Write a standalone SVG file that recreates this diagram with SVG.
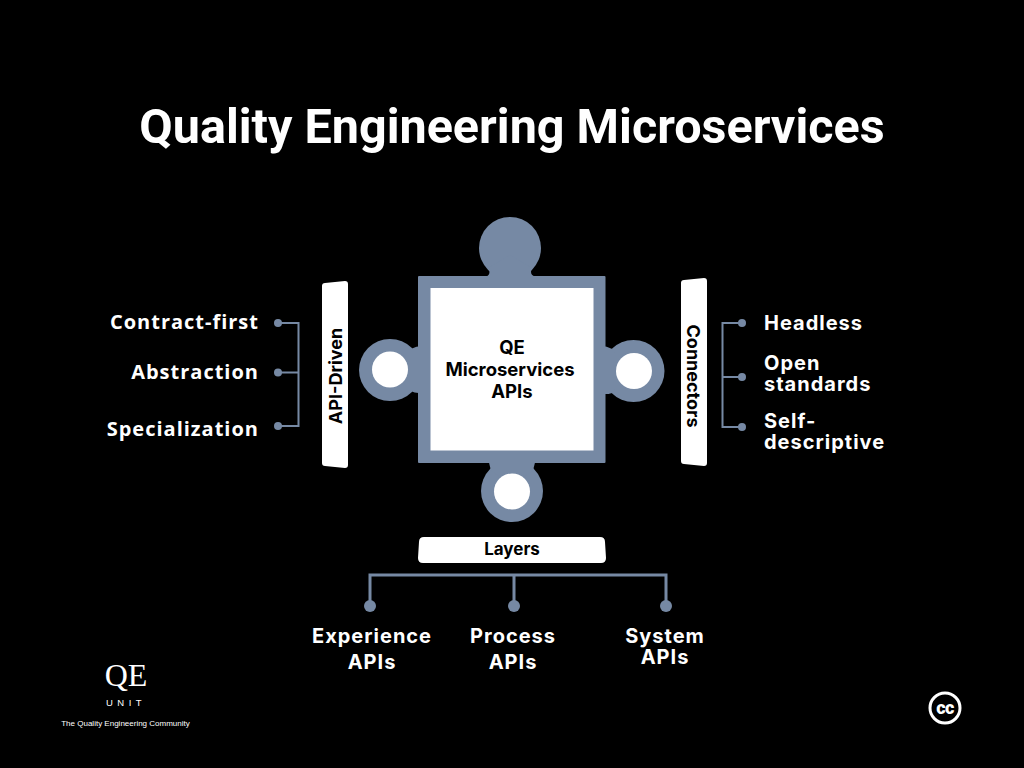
<svg xmlns="http://www.w3.org/2000/svg" width="1024" height="768" viewBox="0 0 1024 768">
<style>
.i{font-family:Inter,"Liberation Sans",sans-serif;font-weight:700}
.o{font-family:"Open Sans","Liberation Sans",sans-serif;font-weight:700;font-size:20px;letter-spacing:1px;fill:#fff;text-anchor:end}
.w{font-size:20px;letter-spacing:1px;fill:#fff}
.m{text-anchor:middle}
.k{font-size:18px;fill:#000;text-anchor:middle}
.s{fill:#7689a4}
.h{fill:#fff}
.l{fill:none;stroke:#7689a4;stroke-width:2}
.b{fill:none;stroke:#7689a4;stroke-width:3}
</style>
<rect width="1024" height="768" fill="#000"/>
<text id="title" x="512" y="143" font-family="Roboto,'Liberation Sans',sans-serif" font-weight="700" font-size="48.5" fill="#fff" text-anchor="middle">Quality Engineering Microservices</text>
<g id="connectors">
<path class="l" d="M278 323H298.500V426H278M278 372.500H298.500"/>
<path class="l" d="M742 323H722.500V427H742M722.500 377H742"/>
<path class="b" d="M370 606V575H666V606M514 575V606"/>
<circle class="s" cx="278" cy="323" r="4"/><circle class="s" cx="278" cy="372.500" r="4"/><circle class="s" cx="278" cy="426" r="4"/>
<circle class="s" cx="742" cy="323" r="4"/><circle class="s" cx="742" cy="377" r="4"/><circle class="s" cx="742" cy="427" r="4"/>
<circle class="s" cx="370" cy="606" r="6"/><circle class="s" cx="514" cy="606" r="6"/><circle class="s" cx="666" cy="606" r="6"/>
</g>
<g id="puzzle">
<circle class="s" cx="510" cy="248" r="31"/>
<path class="s" d="M486 276.500C489 276 491 272 488 268L510 255L532 268C530 272 531 276 535 276.500Z"/>
<circle class="s" cx="390" cy="370" r="31"/>
<path class="s" d="M418.500 346.500C416 346.500 413 348 411 349L395 370L411 391C413 392 416 393 418.500 393Z"/>
<circle class="s" cx="633.500" cy="371" r="31"/>
<path class="s" d="M605 346.500C607 346.500 610 348 612 349L628 371L612 393C610 394 607 394 605 394Z"/>
<circle class="s" cx="512" cy="491" r="31"/>
<path class="s" d="M489 462.500C490 467 491 469 490 470L512 485L534 470C533 469 534 467 535 462.500Z"/>
<rect class="s" x="418" y="276" width="187.500" height="187" rx="1"/>
<rect class="h" x="430.500" y="288" width="163" height="162.500"/>
<circle class="h" cx="390" cy="369.500" r="18"/>
<circle class="h" cx="634" cy="371" r="18"/>
<circle class="h" cx="512" cy="491.500" r="18"/>
<g class="i k" style="font-size:18.500px"><text x="512" y="354">QE</text><text x="510" y="376">Microservices</text><text x="512" y="398">APIs</text></g>
</g>
<g id="api-driven">
<path class="h" d="M325 283L345 281Q348 281 348 284V465Q348 468 345 468L325 466Q322 466 322 463V286Q322 283 325 283Z"/>
<text class="i k" transform="translate(342 376) rotate(-90)">API-Driven</text>
<text class="o" x="259" y="329">Contract-first</text>
<text class="o" x="259" y="379">Abstraction</text>
<text class="o" x="259" y="436">Specialization</text>
</g>
<g id="connectors-panel">
<path class="h" d="M684 280L704 278Q707 278 707 281V463Q707 466 704 466L684 464Q681 464 681 461V283Q681 280 684 280Z"/>
<text class="i k" transform="translate(687 376) rotate(90)">Connectors</text>
<g class="i w"><text x="764" y="330">Headless</text><text x="764" y="370">Open</text><text x="764" y="391">standards</text><text x="764" y="428">Self-</text><text x="764" y="449">descriptive</text></g>
</g>
<g id="layers">
<path class="h" d="M424 537H600Q605 537 605 542L606 558Q606 563 601 563H423Q418 563 418 558L419 542Q419 537 424 537Z"/>
<text class="i k" style="font-size:17px" x="512" y="555">Layers</text>
<g class="i w m"><text x="372" y="643">Experience</text><text x="372" y="669">APIs</text><text x="513" y="643">Process</text><text x="513" y="669">APIs</text><text x="665" y="643">System</text><text x="665" y="664">APIs</text></g>
</g>
<g id="logo" fill="#fff" text-anchor="middle">
<text x="126" y="686" font-family="'Liberation Serif',serif" font-size="32">QE</text>
<text x="126" y="706" font-family="'Liberation Sans',sans-serif" font-size="9.500" letter-spacing="4.500">UNIT</text>
<text x="125.500" y="726" font-family="'Liberation Sans',sans-serif" font-size="8">The Quality Engineering Community</text>
</g>
<g id="cc">
<circle cx="945" cy="708" r="15" fill="none" stroke="#fff" stroke-width="3"/>
<text x="945" y="714" font-family="Roboto,'Liberation Sans',sans-serif" font-weight="900" font-size="18" letter-spacing="-.5" fill="#fff" text-anchor="middle">cc</text>
</g>
</svg>
